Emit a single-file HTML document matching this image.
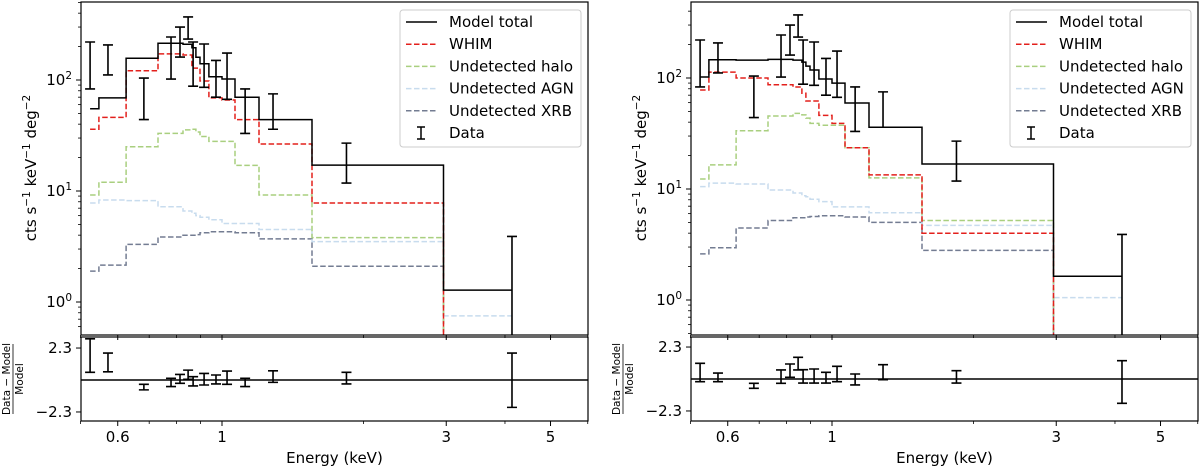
<!DOCTYPE html>
<html><head><meta charset="utf-8"><style>
html,body{margin:0;padding:0;background:#fff;width:1200px;height:468px;overflow:hidden;}
svg{display:block;font-family:"DejaVu Sans","Liberation Sans",sans-serif;}
</style></head><body>
<svg id="fig" width="1200" height="468" viewBox="0 0 1200 468" xmlns="http://www.w3.org/2000/svg" overflow="hidden"></svg>
<script>
const binEdges = [0.524,0.547,0.625,0.731,0.826,0.863,0.880,0.898,0.938,1.0,1.066,1.199,1.554,2.96,4.14];
const dataE = [0.524,0.572,0.682,0.779,0.814,0.847,0.868,0.916,0.971,1.025,1.12,1.284,1.84,4.14];
const dataHi = [220,207,104,244,300,370,220,211,150,175,83,75,27,3.9];
const dataLo = [83,111,44,102,161,234,88,86,70,67,33,36,11.8,0.01];

const leftTotal = [55,69,157,214,210,195,160,140,107,102,70,44,17.1,1.28];
const leftWhim = [36,46,121,172,168,128,128,98,69,66,44,26.5,7.8,0];
const leftHalo = [9.2,12,25,33,35.5,36,34,31,28,28,17,9.2,3.8,0];
const leftAgn = [7.8,8.3,8.2,7.2,6.6,6.3,6.0,5.8,5.5,5.1,5.1,4.5,3.5,0.75];
const leftXrb = [1.9,2.15,3.3,3.85,4.0,4.0,4.05,4.2,4.3,4.3,4.2,3.7,2.1,0];
const leftResHi = [2.96,1.94,-0.31,0.12,0.4,0.71,0.24,0.47,0.36,0.64,0.12,0.66,0.55,1.94];
const leftResLo = [0.55,0.59,-0.71,-0.47,-0.24,0.05,-0.43,-0.36,-0.28,-0.31,-0.47,-0.17,-0.28,-1.97];

const rightTotal = [102,146,145,147,145,139,128,118,98,90,59.5,36,16.8,1.64];
const rightWhim = [78,113,100,87,83,73,62,62,46,39,23.5,13.4,4.0,0];
const rightHalo = [12.3,16.5,33.5,45.5,48,46.5,43.5,39,37.5,37.5,23.5,12.6,5.2,0];
const rightAgn = [10.5,11.3,11.1,9.8,9.2,8.7,8.5,8.1,7.7,6.9,6.9,6.1,4.7,1.05];
const rightXrb = [2.6,2.95,4.45,5.2,5.5,5.5,5.6,5.65,5.75,5.75,5.6,5.0,2.8,0];
const rightResHi = [1.13,0.43,-0.31,0.65,1.08,1.56,0.67,0.72,0.48,0.91,0.36,1.03,0.6,1.32];
const rightResLo = [-0.19,-0.19,-0.67,-0.31,0.12,0.65,-0.29,-0.29,-0.29,-0.19,-0.43,-0.05,-0.29,-1.75];

const xTickVals = [0.6,1,3,5];
const xTickLabels = ["0.6","1","3","5"];
const xMinor = [0.5,0.7,0.8,0.9,2,4,6];
const legendLabels = ["Model total","WHIM","Undetected halo","Undetected AGN","Undetected XRB","Data"];

const NS="http://www.w3.org/2000/svg";
const svg=document.getElementById('fig');
function mk(tag,attrs,parent){const e=document.createElementNS(NS,tag);for(const k in attrs)e.setAttribute(k,attrs[k]);(parent||svg).appendChild(e);return e;}

const colors={total:"#000",whim:"#e3201c",halo:"#a9cf7f",agn:"#c8dcee",xrb:"#737c92"};

function panel(off,y100,zeroR,sets,resHi,resLo,pname){
  const L=81+off,R=588+off,T=2,B=335,RT=337,RB=421;
  const X=E=>222+off+470*Math.log10(E);
  const Y=v=> v<=0 ? B+10 : Math.min(B+10, y100+(2-Math.log10(v))*111);
  const YR=r=>zeroR-r*13.9;
  const g=mk('g',{});
  
  
  const cid='clip'+off;
  const cp=mk('clipPath',{id:cid},g);mk('rect',{x:L,y:T,width:R-L,height:B-T},cp);
  const cid2='clipr'+off;
  const cp2=mk('clipPath',{id:cid2},g);mk('rect',{x:L,y:RT,width:R-L,height:RB-RT},cp2);
  const plot=mk('g',{'clip-path':'url(#'+cid+')'},g);
  const order=[['xrb',sets.xrb,'5.5,2.5'],['agn',sets.agn,'5.5,2.5'],['halo',sets.halo,'5.5,2.5'],['whim',sets.whim,'5.5,2.5'],['total',sets.total,null]];
  for(const [key,vals,dash] of order){
    let d='';
    for(let i=0;i<vals.length;i++){
      const x0=X(binEdges[i]),x1=X(binEdges[i+1]),y=Y(vals[i]);
      d+=(i===0?'M':'L')+x0.toFixed(1)+','+y.toFixed(1)+'L'+x1.toFixed(1)+','+y.toFixed(1);
    }
    const p=mk('path',{d:d,fill:'none',stroke:colors[key],'stroke-width':1.5},plot);
    if(dash)p.setAttribute('stroke-dasharray',dash);
    
    
  }
  for(let i=0;i<dataE.length;i++){
    const x=X(dataE[i]),y1=Y(dataHi[i]),y2=Y(dataLo[i]);
    const eb=mk('path',{d:`M${x},${y1}L${x},${y2}M${x-5},${y1}L${x+5},${y1}M${x-5},${y2}L${x+5},${y2}`,stroke:'#000','stroke-width':1.6,fill:'none'},plot);
    
    
  }
  const rp=mk('g',{'clip-path':'url(#'+cid2+')'},g);
  mk('line',{x1:L,x2:R,y1:YR(0),y2:YR(0),stroke:'#000','stroke-width':1.6},rp);
  for(let i=0;i<dataE.length;i++){
    const x=X(dataE[i]),y1=YR(resHi[i]),y2=YR(resLo[i]);
    const eb=mk('path',{d:`M${x},${y1}L${x},${y2}M${x-5},${y1}L${x+5},${y1}M${x-5},${y2}L${x+5},${y2}`,stroke:'#000','stroke-width':1.6,fill:'none'},rp);
    
    
  }
  mk('rect',{x:L,y:T,width:R-L,height:B-T,fill:'none',stroke:'#000','stroke-width':1.2},g);
  mk('rect',{x:L,y:RT,width:R-L,height:RB-RT,fill:'none',stroke:'#000','stroke-width':1.2},g);
  for(let dec=-1;dec<=3;dec++){
    for(let m=1;m<10;m++){
      const v=m*Math.pow(10,dec);const y=y100+(2-Math.log10(v))*111;
      if(y<T||y>B)continue;
      mk('line',{x1:L,x2:L-(m===1?5:3),y1:y,y2:y,stroke:'#000','stroke-width':m===1?1:0.8},g);
      if(m===1){
        const t=mk('text',{x:L-9,y:y+5,'text-anchor':'end','font-size':15},g);
        t.textContent='10';
        const s=mk('tspan',{dy:-6,'font-size':10.5},t);s.textContent=String(dec);
      }
    }
  }
  [[2.3,'2.3'],[-2.3,'\u22122.3']].forEach(([v,l])=>{
    const y=YR(v);mk('line',{x1:L,x2:L-5,y1:y,y2:y,stroke:'#000'},g);
    const t=mk('text',{x:L-9,y:y+5,'text-anchor':'end','font-size':15},g);t.textContent=l;
  });
  xTickVals.forEach((v,i)=>{
    const x=X(v);
    mk('line',{x1:x,x2:x,y1:B,y2:B+5,stroke:'#000'},g);
    mk('line',{x1:x,x2:x,y1:RB,y2:RB+5,stroke:'#000'},g);
    const t=mk('text',{x:x,y:RB+21,'text-anchor':'middle','font-size':15},g);t.textContent=xTickLabels[i];
  });
  xMinor.forEach(v=>{const x=X(v);if(x<L-0.5||x>R)return;
    mk('line',{x1:x,x2:x,y1:B,y2:B+3,stroke:'#000','stroke-width':0.8},g);
    mk('line',{x1:x,x2:x,y1:RB,y2:RB+3,stroke:'#000','stroke-width':0.8},g);});
  const xl=mk('text',{x:(L+R)/2,y:463,'text-anchor':'middle','font-size':15},g);xl.textContent='Energy (keV)';
  
  
  const yl=mk('text',{x:0,y:0,'text-anchor':'middle','font-size':15,transform:`translate(${L-45},168) rotate(-90)`},g);
  yl.innerHTML='cts s<tspan dy="-6" font-size="10.5">\u22121</tspan><tspan dy="6"> keV</tspan><tspan dy="-6" font-size="10.5">\u22121</tspan><tspan dy="6"> deg</tspan><tspan dy="-6" font-size="10.5">\u22122</tspan>';
  
  
  const rl=mk('g',{transform:`translate(${L-68},${(RT+RB)/2}) rotate(-90)`},g);
  
  
  const t1=mk('text',{x:0,y:-3,'text-anchor':'middle','font-size':10.5},rl);t1.textContent='Data \u2212 Model';
  mk('line',{x1:-35,x2:35,y1:0,y2:0,stroke:'#000','stroke-width':0.8},rl);
  const t2=mk('text',{x:0,y:10,'text-anchor':'middle','font-size':10.5},rl);t2.textContent='Model';
  const lx=400+off,ly=10;
  const lg=mk('g',{},g);
  
  
  mk('rect',{x:lx,y:ly,width:181,height:137,rx:3,fill:'#fff',stroke:'#ccc','stroke-width':1},lg);
  const lc=['total','whim','halo','agn','xrb'];
  legendLabels.forEach((lab,i)=>{
    const y=22+i*22.2;
    if(i<5){const ln=mk('line',{x1:lx+6,x2:lx+37,y1:y,y2:y,stroke:colors[lc[i]],'stroke-width':1.5},lg);
      if(i>0)ln.setAttribute('stroke-dasharray','5.5,2.5');}
    else mk('path',{d:`M${lx+21},${y-6}L${lx+21},${y+6}M${lx+17},${y-6}L${lx+25},${y-6}M${lx+17},${y+6}L${lx+25},${y+6}`,stroke:'#000','stroke-width':1.5,fill:'none'},lg);
    const t=mk('text',{x:lx+49,y:y+5,'font-size':15},lg);t.textContent=lab;
    
    
  });
}
panel(0,80,380,{total:leftTotal,whim:leftWhim,halo:leftHalo,agn:leftAgn,xrb:leftXrb},leftResHi,leftResLo,'left-panel');
panel(610,78,379,{total:rightTotal,whim:rightWhim,halo:rightHalo,agn:rightAgn,xrb:rightXrb},rightResHi,rightResLo,'right-panel');
</script>
</body></html>
